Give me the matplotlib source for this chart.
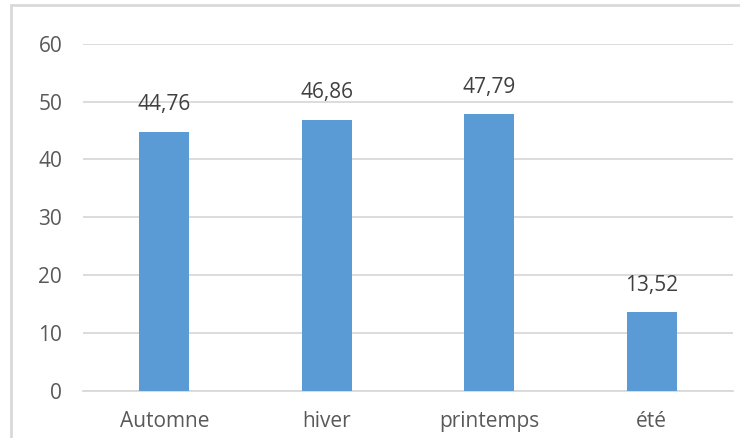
import matplotlib
matplotlib.use("Agg")
import matplotlib.pyplot as plt
from matplotlib.patches import Rectangle

categories = ["Automne", "hiver", "printemps", "été"]
values = [44.76, 46.86, 47.79, 13.52]
labels = ["44,76", "46,86", "47,79", "13,52"]
yticks = [0, 10, 20, 30, 40, 50, 60]

txt = "#595959"
plt.rcParams['font.family'] = ['Open Sans', 'DejaVu Sans']

fig = plt.figure(figsize=(7.4, 4.38), dpi=100)
ax = fig.add_axes([0.1122, 0.1084, 0.8783, 0.7918])

x = range(len(categories))
bars = ax.bar(x, values, width=0.31, color="#5B9BD5", zorder=3)
for b, lab in zip(bars, labels):
    ax.annotate(lab, (b.get_x() + b.get_width() / 2, b.get_height()),
                xytext=(0, 12), textcoords="offset points",
                ha="center", va="bottom", fontsize=15, color="#404040")

ax.set_xlim(-0.5, len(categories) - 0.5)
ax.set_ylim(0, 60)
ax.set_yticks(yticks)
ax.set_xticks(list(x))
ax.set_xticklabels(categories)
ax.tick_params(axis="both", length=0, labelsize=15, colors=txt)
ax.tick_params(axis="y", pad=15)
ax.tick_params(axis="x", pad=15)
ax.grid(axis="y", color="#D9D9D9", linewidth=1.3, zorder=0)
for s in ["top", "right", "left"]:
    ax.spines[s].set_visible(False)
ax.spines["bottom"].set_color("#D9D9D9")
ax.spines["bottom"].set_linewidth(1.3)

fig.patches.append(Rectangle((11 / 740, -0.1), 1.2, 1.1 - 5 / 438,
                             transform=fig.transFigure, fill=False,
                             edgecolor="#D9D9D9", linewidth=2))

fig.savefig("out.png", dpi=100)
